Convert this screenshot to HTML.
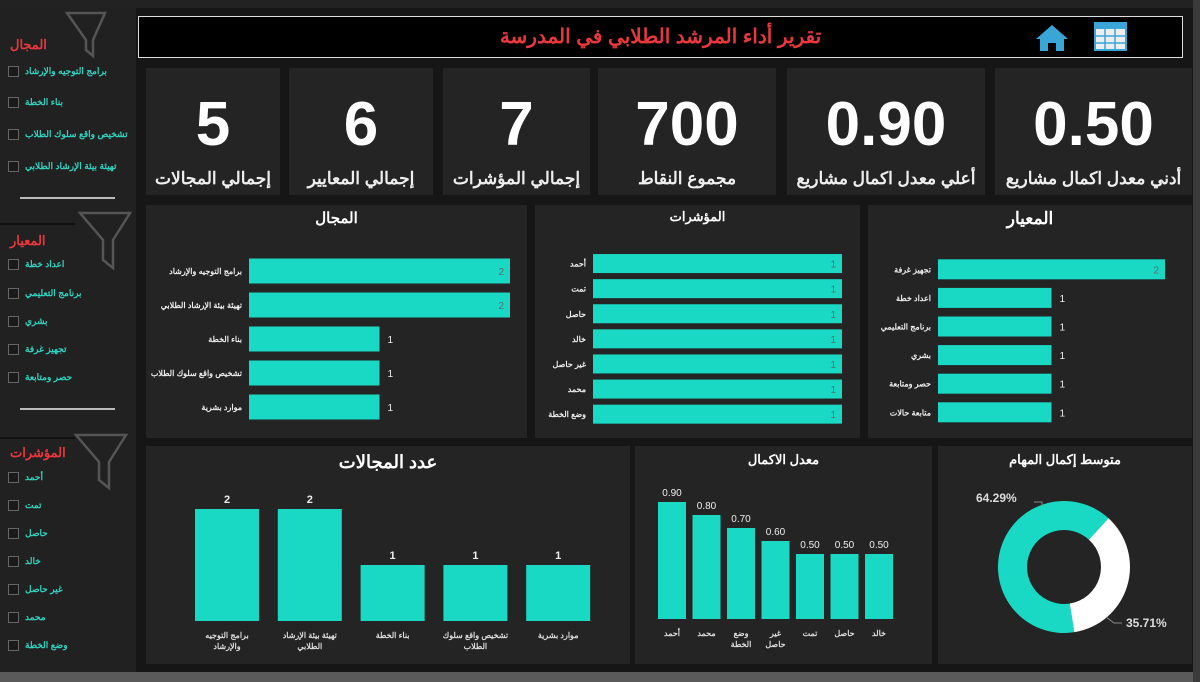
<!DOCTYPE html>
<html><head><meta charset="utf-8">
<style>
body{margin:0;width:1200px;height:682px;background:#161616;overflow:hidden;font-family:"Liberation Sans","Noto Sans CJK SC",sans-serif;position:relative}
.abs{position:absolute}
.panel{position:absolute;background:#242424}
.side{position:absolute;left:0;top:0;width:136px;height:672px;background:#212121}
.sh{position:absolute;left:10px;color:#e8383d;font-size:13px;font-weight:bold}
.si{position:absolute;left:8px;display:flex;align-items:center;gap:6px;color:#2fd3c0;font-size:9px;font-weight:bold}
.cb{width:9px;height:9px;border:1px solid #666;background:#1a1a1a}
.kpi{position:absolute;top:68px;height:127px;background:#242424;color:#fff;text-align:center;font-weight:bold}
.kpi .n{position:absolute;left:0;right:0;top:22px;font-size:62px;line-height:70px}
.kpi .l{position:absolute;left:0;right:0;top:99px;font-size:17px;line-height:24px;direction:rtl;font-weight:bold;color:#eee;white-space:nowrap}
.pt{position:absolute;left:0;right:0;text-align:center;color:#fff;font-weight:bold;font-size:15px;direction:rtl}
svg text{font-family:"Liberation Sans","Noto Sans CJK SC",sans-serif}
</style></head><body>
<div class="side"></div>
<div class="abs" style="left:0;top:0;width:1200px;height:8px;background:#222"></div>
<div class="abs" style="left:0;top:672px;width:1200px;height:10px;background:#5a5a5a"></div>
<div class="abs" style="left:1193px;top:0;width:7px;height:682px;background:#3a3a3a"></div>

<svg class="abs" style="left:0;top:0" width="136" height="672">
<g fill="none" stroke="#555" stroke-width="2.5">
<path d="M67 13 H105 L93 40 V56 L86 50 V40 Z"/>
<path d="M80 213 H130 L113 240 V268 L103 260 V240 Z"/>
<path d="M76 435 H126 L109 462 V488 L99 480 V462 Z"/>
</g>
<line x1="20" y1="198" x2="115" y2="198" stroke="#bbb" stroke-width="2"/>
<line x1="20" y1="409" x2="115" y2="409" stroke="#bbb" stroke-width="2"/>
<line x1="0" y1="224" x2="75" y2="224" stroke="#111" stroke-width="2"/>
<line x1="0" y1="438" x2="75" y2="438" stroke="#111" stroke-width="2"/>
</svg>
<div class="sh" style="top:37px">المجال</div>
<div class="si" style="top:66px"><span class="cb"></span>برامج التوجيه والإرشاد</div>
<div class="si" style="top:97px"><span class="cb"></span>بناء الخطة</div>
<div class="si" style="top:129px"><span class="cb"></span>تشخيص واقع سلوك الطلاب</div>
<div class="si" style="top:161px"><span class="cb"></span>تهيئة بيئة الإرشاد الطلابي</div>
<div class="sh" style="top:233px">المعيار</div>
<div class="si" style="top:259px"><span class="cb"></span>اعداد خطة</div>
<div class="si" style="top:288px"><span class="cb"></span>برنامج التعليمي</div>
<div class="si" style="top:316px"><span class="cb"></span>بشري</div>
<div class="si" style="top:344px"><span class="cb"></span>تجهيز غرفة</div>
<div class="si" style="top:372px"><span class="cb"></span>حصر ومتابعة</div>
<div class="sh" style="top:445px">المؤشرات</div>
<div class="si" style="top:472px"><span class="cb"></span>أحمد</div>
<div class="si" style="top:500px"><span class="cb"></span>تمت</div>
<div class="si" style="top:528px"><span class="cb"></span>حاصل</div>
<div class="si" style="top:556px"><span class="cb"></span>خالد</div>
<div class="si" style="top:584px"><span class="cb"></span>غير حاصل</div>
<div class="si" style="top:612px"><span class="cb"></span>محمد</div>
<div class="si" style="top:640px"><span class="cb"></span>وضع الخطة</div>

<div class="abs" style="left:138px;top:16px;width:1043px;height:40px;background:#000;border:1px solid #ddd">
<div style="position:absolute;left:0;right:0;top:7px;text-align:center;color:#e8383d;font-size:20px;font-weight:bold;direction:rtl">تقرير أداء المرشد الطلابي في المدرسة</div>
<svg style="position:absolute;left:895px;top:5px" width="40" height="30"><path d="M18 3 L34 17 H30 V29 H22 V21 H14 V29 H6 V17 H2 Z" fill="#3aa6d8"/></svg>
<svg style="position:absolute;left:955px;top:5px" width="34" height="30"><rect x="1" y="1" width="31" height="27" fill="#eee" stroke="#3aa6d8" stroke-width="2"/><rect x="1" y="1" width="31" height="6" fill="#3aa6d8"/><g stroke="#3aa6d8" stroke-width="1.5"><line x1="1" y1="14" x2="32" y2="14"/><line x1="1" y1="21" x2="32" y2="21"/><line x1="11" y1="7" x2="11" y2="28"/><line x1="21" y1="7" x2="21" y2="28"/></g></svg>
</div>

<div class="kpi" style="left:146px;width:134px"><div class="n">5</div><div class="l">إجمالي المجالات</div></div>
<div class="kpi" style="left:289px;width:144px"><div class="n">6</div><div class="l">إجمالي المعايير</div></div>
<div class="kpi" style="left:443px;width:147px"><div class="n">7</div><div class="l">إجمالي المؤشرات</div></div>
<div class="kpi" style="left:598px;width:178px"><div class="n">700</div><div class="l">مجموع النقاط</div></div>
<div class="kpi" style="left:787px;width:198px"><div class="n">0.90</div><div class="l">أعلي معدل اكمال مشاريع</div></div>
<div class="kpi" style="left:995px;width:197px"><div class="n">0.50</div><div class="l">أدني معدل اكمال مشاريع</div></div>

<div class="panel" style="left:146px;top:205px;width:381px;height:233px"><div class="pt" style="top:4px">المجال</div></div>
<div class="panel" style="left:535px;top:205px;width:325px;height:233px"><div class="pt" style="top:4px;font-size:13px">المؤشرات</div></div>
<div class="panel" style="left:868px;top:205px;width:324px;height:233px"><div class="pt" style="top:4px;font-size:17px">المعيار</div></div>
<div class="panel" style="left:146px;top:446px;width:484px;height:218px"><div class="pt" style="top:6px;font-size:18px">عدد المجالات</div></div>
<div class="panel" style="left:635px;top:446px;width:297px;height:218px"><div class="pt" style="top:6px;font-size:13px">معدل الاكمال</div></div>
<div class="panel" style="left:938px;top:446px;width:254px;height:218px"><div class="pt" style="top:6px;font-size:13px">متوسط إكمال المهام</div></div>

<svg id="charts" class="abs" style="left:0;top:0" width="1200" height="682"></svg>

<script>
const domainCats=["برامج التوجيه والإرشاد","تهيئة بيئة الإرشاد الطلابي","بناء الخطة","تشخيص واقع سلوك الطلاب","موارد بشرية"];
const domainVals=[2,2,1,1,1];
const indCats=["أحمد","تمت","حاصل","خالد","غير حاصل","محمد","وضع الخطة"];
const indVals=[1,1,1,1,1,1,1];
const critCats=["تجهيز غرفة","اعداد خطة","برنامج التعليمي","بشري","حصر ومتابعة","متابعة حالات"];
const critVals=[2,1,1,1,1,1];
const countCats=[["برامج التوجيه","والإرشاد"],["تهيئة بيئة الإرشاد","الطلابي"],["بناء الخطة"],["تشخيص واقع سلوك","الطلاب"],["موارد بشرية"]];
const countVals=[2,2,1,1,1];
const rateCats=[["أحمد"],["محمد"],["وضع","الخطة"],["غير","حاصل"],["تمت"],["حاصل"],["خالد"]];
const rateVals=[0.90,0.80,0.70,0.60,0.50,0.50,0.50];
const donutLabels=["64.29%","35.71%"];
const donutVals=[64.29,35.71];

const svg=document.getElementById('charts');
const NS='http://www.w3.org/2000/svg';
const TEAL='#19d9c5';
function mk(tag,attrs,txt){const e=document.createElementNS(NS,tag);for(const k in attrs)e.setAttribute(k,attrs[k]);if(txt!==undefined)e.textContent=txt;svg.appendChild(e);return e;}

function hbar(cats,vals,x0,x1max,vmax,yTop,step,bh,name,inside){
  const xs=v=>x0+(x1max-x0)*v/vmax;
  cats.forEach((c,i)=>{
    const cy=yTop+step*i+step/2;
    const r=mk('rect',{x:x0,y:cy-bh/2,width:xs(vals[i])-x0,height:bh,fill:TEAL});
    
    
    const t=mk('text',{x:x0-7,y:cy+3,'text-anchor':'end',fill:'#eee','font-size':8,'font-weight':'bold'},c);
    
    
    const full=vals[i]>=vmax||inside;
    const vt=mk('text',{x:full?xs(vals[i])-6:xs(vals[i])+8,y:cy+4,'text-anchor':full?'end':'start',fill:full?'#666':'#eee','font-size':10},String(vals[i]));
    
    
  });
}
hbar(domainCats,domainVals,249,510,2,254,34,25,'domain',false);
hbar(indCats,indVals,593,842,1,251,25.1,19,'indicator',true);
hbar(critCats,critVals,938,1165,2,255,28.6,20,'criterion',false);

function vbar(cats,vals,cx0,step,bw,base,pxPerUnit,name,fmt,fs,bold){
  cats.forEach((c,i)=>{
    const cx=cx0+step*i, h=vals[i]*pxPerUnit;
    const r=mk('rect',{x:cx-bw/2,y:base-h,width:bw,height:h,fill:TEAL});
    
    
    const vt=mk('text',{x:cx,y:base-h-6,'text-anchor':'middle',fill:'#eee','font-size':fs,'font-weight':bold?'bold':'normal'},fmt(vals[i]));
    
    
    c.forEach((ln,j)=>{
      const t=mk('text',{x:cx,y:base+17+j*11,'text-anchor':'middle',fill:'#ddd','font-size':8,'font-weight':'bold'},ln);
      
      
    });
  });
}
vbar(countCats,countVals,227,82.8,64,621,56,'domain-count',v=>String(v),11,true);
vbar(rateCats,rateVals,672,34.5,28,619,130,'completion',v=>v.toFixed(2),10,false);

const dcx=1064,dcy=567,R=66,r=37;
let ang=171;
function pt(a,rad){const t=a*Math.PI/180;return [dcx+rad*Math.sin(t),dcy-rad*Math.cos(t)];}
const total=donutVals.reduce((a,b)=>a+b,0);
const cols=[TEAL,'#ffffff'];
donutVals.forEach((v,i)=>{
  const sweep=v/total*360, a1=ang+sweep;
  const [x1,y1]=pt(ang,R),[x2,y2]=pt(a1,R),[x3,y3]=pt(a1,r),[x4,y4]=pt(ang,r);
  const lg=sweep>180?1:0;
  const p=mk('path',{d:`M${x1} ${y1} A${R} ${R} 0 ${lg} 1 ${x2} ${y2} L${x3} ${y3} A${r} ${r} 0 ${lg} 0 ${x4} ${y4} Z`,fill:cols[i]});
  
  
  ang=a1;
});
const l1=mk('text',{x:976,y:502,'font-size':12,'font-weight':'bold',fill:'#ddd'},donutLabels[0]);


mk('path',{d:'M1034 502 H1042 V506',stroke:'#888',fill:'none'});
const l2=mk('text',{x:1126,y:627,'font-size':12,'font-weight':'bold',fill:'#ddd'},donutLabels[1]);


mk('path',{d:'M1106 617 L1114 623 H1122',stroke:'#888',fill:'none'});
</script>
</body></html>
